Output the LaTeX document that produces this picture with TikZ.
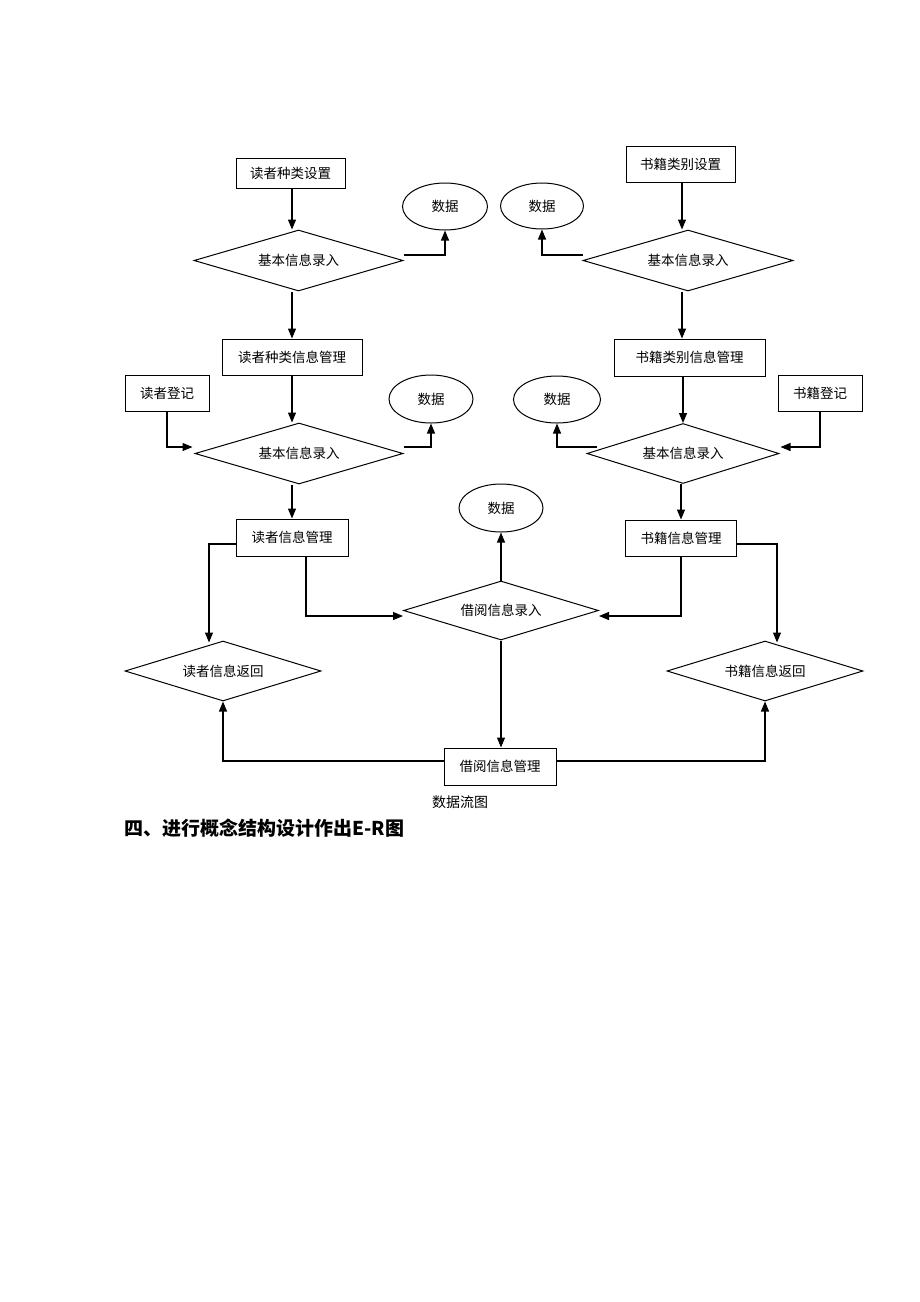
\documentclass[tikz,border=0pt]{standalone}
\usepackage{fontspec}
\setmainfont{Noto Sans CJK SC}
\usetikzlibrary{shapes.geometric,arrows.meta}
\tikzset{
  box/.style={draw,line width=1pt,inner sep=0pt,font=\fontsize{13.5}{15}\selectfont},
  dia/.style={draw,diamond,shape aspect=3.4,line width=1pt,inner sep=0pt,font=\fontsize{13.5}{15}\selectfont},
  ell/.style={draw,ellipse,line width=1pt,inner sep=0pt,font=\fontsize{13.5}{15}\selectfont},
  arr/.style={line width=1.2pt,-{Triangle[length=10pt,width=8pt]}}
}
\begin{document}
\begin{tikzpicture}[x=1pt,y=-1pt]
\path[use as bounding box,fill=white] (0,0) rectangle (920,1302);
% left column
\node[box,minimum width=109pt,minimum height=30pt] (b1) at (290.5,173) {读者种类设置};
\node[dia,minimum width=209pt,minimum height=61pt] (d1) at (298.5,260.5) {基本信息录入};
\node[ell,minimum width=85pt,minimum height=47pt] (e1) at (445,206.5) {数据};
\node[box,minimum width=140pt,minimum height=36pt] (b2) at (292,357) {读者种类信息管理};
\node[box,minimum width=84pt,minimum height=36pt] (b3) at (167,393) {读者登记};
\node[dia,minimum width=208pt,minimum height=61pt] (d2) at (299,453.5) {基本信息录入};
\node[ell,minimum width=84pt,minimum height=48pt] (e2) at (431,399) {数据};
\node[box,minimum width=112pt,minimum height=37pt] (b4) at (292,537.5) {读者信息管理};
\node[dia,minimum width=196pt,minimum height=60pt] (d3) at (223,671) {读者信息返回};
% middle
\node[dia,minimum width=195pt,minimum height=59pt] (d4) at (501,610.5) {借阅信息录入};
\node[ell,minimum width=84pt,minimum height=48pt] (e3) at (501,508) {数据};
\node[box,minimum width=112pt,minimum height=37pt] (b5) at (500,766.5) {借阅信息管理};
% right column
\node[box,minimum width=109pt,minimum height=36pt] (b7) at (680.5,164) {书籍类别设置};
\node[dia,minimum width=210pt,minimum height=61pt] (d6) at (688,260.5) {基本信息录入};
\node[ell,minimum width=83pt,minimum height=46pt] (e4) at (542,206) {数据};
\node[box,minimum width=151pt,minimum height=37pt] (b8) at (689.5,357.5) {书籍类别信息管理};
\node[box,minimum width=84pt,minimum height=36pt] (b9) at (820,393) {书籍登记};
\node[dia,minimum width=192pt,minimum height=60pt] (d7) at (683,453.5) {基本信息录入};
\node[ell,minimum width=87pt,minimum height=47pt] (e5) at (557,399.5) {数据};
\node[box,minimum width=111pt,minimum height=36pt] (b6) at (681,538) {书籍信息管理};
\node[dia,minimum width=196pt,minimum height=60pt] (d5) at (765,671) {书籍信息返回};
% captions
\node[font=\fontsize{14}{16}\selectfont] (cap) at (460,802) {数据流图};
\node[anchor=west,font=\fontsize{19}{21}\selectfont\bfseries] (sec) at (121,828) {四、进行概念结构设计作出E-R图};
% connectors left
\draw[arr] ([xshift=1.5pt]b1.south) -- ([xshift=1.5pt]b1.south |- d1.north);
\draw[arr] ([yshift=5.5pt]d1.east) -| (e1.south);
\draw[arr] (b2.north |- d1.south) -- (b2.north);
\draw[arr] (b2.south) -- (b2.south |- d2.north);
\draw[arr] (b3.south) |- ([xshift=-2pt,yshift=6.5pt]d2.west);
\draw[arr] ([yshift=6.5pt]d2.east) -| (e2.south);
\draw[arr] (b4.north |- d2.south) -- (b4.north);
\draw[arr] ([yshift=-6.5pt]b4.west) -| ([xshift=-14pt,yshift=-2pt]d3.north);
\draw[arr] ([xshift=14pt]b4.south) |- ([yshift=-5.5pt]d4.west);
\draw[arr] ([yshift=5.5pt]b5.west) -| (d3.south);
% middle
\draw[arr] (d4.north) -- (e3.south);
\draw[arr] (d4.south) -- (d4.south |- b5.north);
\draw[arr] ([yshift=5.5pt]b5.east) -| (d5.south);
% right
\draw[arr] ([xshift=1.5pt]b7.south) -- ([xshift=1.5pt]b7.south |- d6.north);
\draw[arr] ([yshift=5.5pt]d6.west) -| (e4.south);
\draw[arr] ([xshift=1.5pt]b7.south |- d6.south) -- ([xshift=1.5pt]b7.south |- b8.north);
\draw[arr] (d7.north |- b8.south) -- (d7.north);
\draw[arr] ([xshift=10pt,yshift=6.5pt]d7.west) -| (e5.south);
\draw[arr] (b9.south) |- ([xshift=1pt,yshift=6.5pt]d7.east);
\draw[arr] (b6.north |- d7.south) -- (b6.north);
\draw[arr] (b6.south) |- ([yshift=-5.5pt]d4.east);
\draw[arr] ([yshift=-6pt]b6.east) -| ([xshift=12pt,yshift=-2pt]d5.north);
\end{tikzpicture}
\end{document}
